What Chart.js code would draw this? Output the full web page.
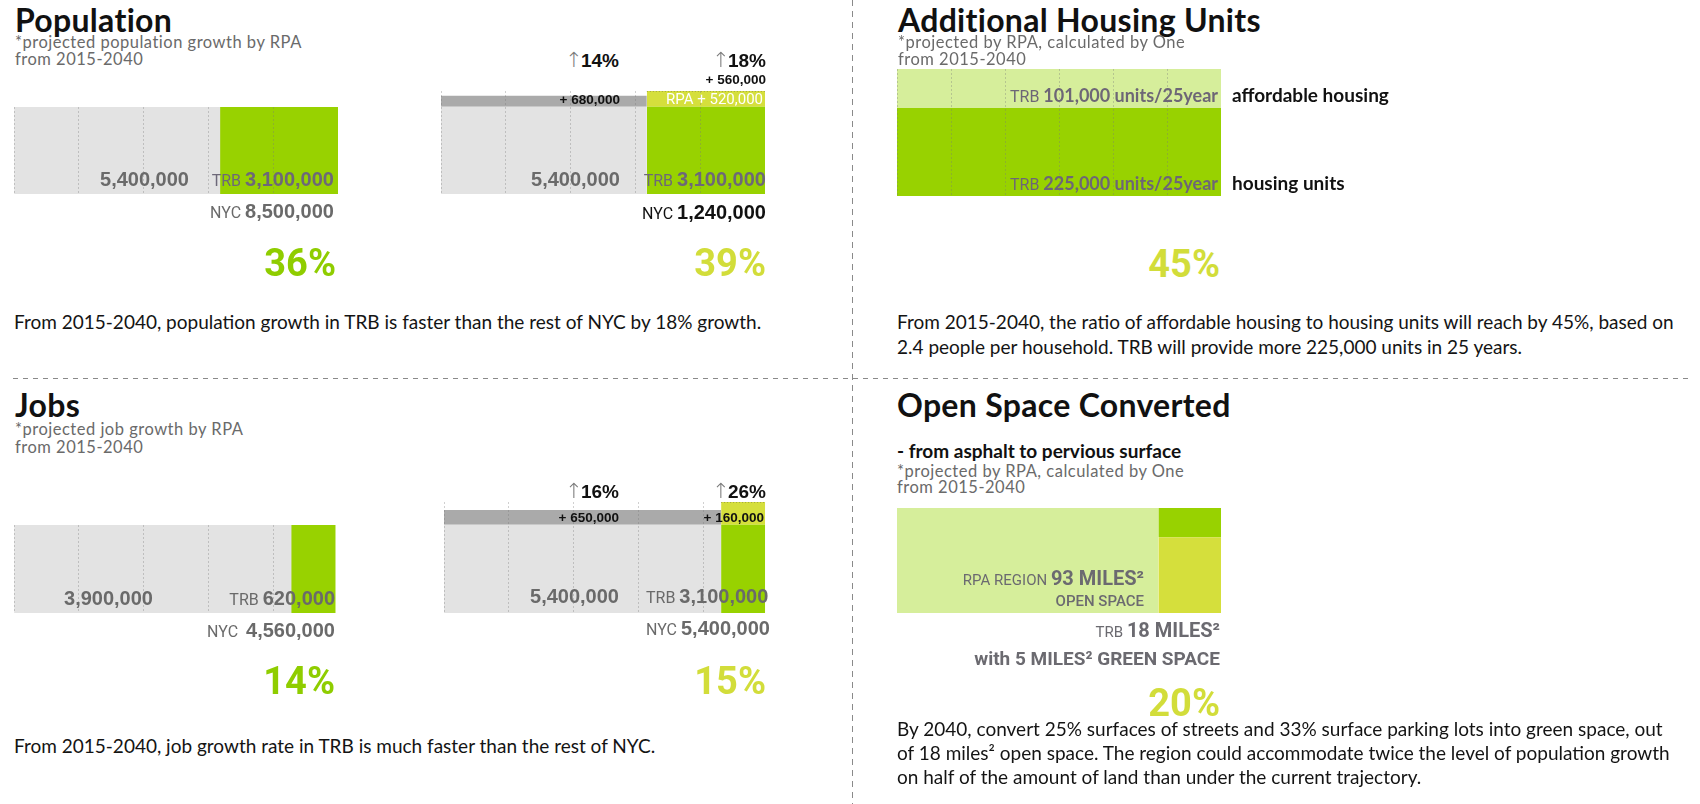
<!DOCTYPE html>
<html lang="en">
<head>
<meta charset="UTF-8">
<title>TRB growth 2015-2040</title>
<style>
  body { margin: 0; background: #fff; }
  #stage { position: relative; width: 1700px; height: 804px; overflow: hidden; }
  canvas { position: absolute; }
  .vdash { position: absolute; left: 852px; top: 0; width: 1px; height: 804px;
    background: repeating-linear-gradient(to bottom, #8a8a8a 0 6px, transparent 6px 11px); }
  .hdash { position: absolute; left: 13px; top: 378px; width: 1678px; height: 1px;
    background: repeating-linear-gradient(to right, #8a8a8a 0 5px, transparent 5px 10px); }
  .t { position: absolute; white-space: nowrap; line-height: 1; }
  .bl { display: inline-block; width: 0; height: 0; }
  .h1 { font: 700 32px Lato, sans-serif; color: #111; line-height: 0.8; letter-spacing: 0.3px; }
  .h3 { font: 700 19px Lato, sans-serif; color: #111; }
  .sub { font: 400 16.5px Lato, sans-serif; color: #6a6a6a; letter-spacing: 0.5px; line-height: 0.9; }
  .p { font: 400 19px Lato, sans-serif; color: #141414; }
  .num { font: 700 20px "Liberation Sans", Arial, sans-serif; color: #6a6a6a; }
  .num .sm { font: 400 16px Roboto, sans-serif; }
  .purp { color: #6d6878; }
  .dark { color: #111; }
  .pct { font: 700 38px Roboto, sans-serif; line-height: 0.8; }
  .green { color: #8fcd00; }
  .yellow { color: #d2dd3a; }
  .up { font: 700 19px "Liberation Sans", Arial, sans-serif; color: #111; }
  .up .arr { font: 200 21px "DejaVu Sans", sans-serif; color: #7a7a7a; margin-right: -2px; }
  .plus { font: 700 13.5px "Liberation Sans", Arial, sans-serif; color: #111; }
  .rpa { font: 400 15px Roboto, sans-serif; color: #fff; }
  .hnum { font: 700 18px Lato, sans-serif; color: #6d6676; }
  .hnum .sm { font: 400 16px Roboto, sans-serif; }
  .hlab { font: 700 19px Lato, sans-serif; color: #111; }
  .os { font: 700 20px Roboto, sans-serif; color: #6b6a70; }
  .os .sm { font: 400 15px Roboto, sans-serif; }
  .os.small { font-size: 15px; font-weight: 500; }
  .os.mid { font-size: 19px; }
</style>
</head>
<body>
<div id="stage">
  <div class="vdash"></div>
  <div class="hdash"></div>
  <canvas id="popNow" width="324" height="87" style="left:14px;top:107px"></canvas>
  <canvas id="popGrow" width="324" height="100" style="left:441px"></canvas>
  <canvas id="jobsNow" width="324" height="88" style="left:14px;top:525px"></canvas>
  <canvas id="jobsGrow" width="324" height="100" style="left:444px"></canvas>
  <canvas id="housing" width="324" height="127" style="left:897px;top:69px"></canvas>
  <canvas id="openSpace" width="324" height="105" style="left:897px;top:508px"></canvas>
</div>

<script src="https://cdn.jsdelivr.net/npm/chart.js"></script>
<script>
// data, 2015-2040 projections
const segments = ['rest of NYC', 'TRB'];
const popBase = [5400000, 3100000];
const popGrowth = [680000, 560000];
const popNYC = 8500000;
const jobsBase = [3900000, 620000];
const jobsGrowth = [650000, 160000];
const jobsNYC = 4560000;
const housingSeries = ['housing units', 'affordable housing'];
const housingUnits = [225000, 101000];
const rpaOpenSpace = 93;               // miles², RPA region
const trbSpace = ['open space', 'green space'];
const trbMiles = [13, 5];              // TRB 18 miles², 5 of them green

const GRAY = '#e3e3e3', BAND = '#aaaaaa', GREEN = '#98d200', YELLOW = '#d5df3c', PALE = '#d6ee9b';
const GRID = 'rgba(120,120,120,0.35)';
const noChrome = { legend: { display: false }, tooltip: { enabled: false } };

function gridAxis(max) {
    return {
        type: 'linear', min: 0, max: max,
        ticks: { display: false, stepSize: max / 5 },
        grid: { drawTicks: false, color: GRID, lineWidth: 1, z: 1 },
        border: { display: false, dash: [2, 2] }
    };
}

// one row, stacked horizontally
function stripChart(id, values, total) {
    return new Chart(document.getElementById(id), {
        type: 'bar',
        data: {
            labels: ['NYC'],
            datasets: values.map((v, i) => ({
                label: segments[i], data: [v], backgroundColor: [GRAY, GREEN][i],
                borderWidth: 0, categoryPercentage: 1, barPercentage: 1
            }))
        },
        options: {
            indexAxis: 'y', responsive: false, animation: false, events: [],
            layout: { padding: 0 }, plugins: noChrome,
            scales: { x: Object.assign(gridAxis(total), { stacked: true }), y: { stacked: true, display: false } }
        }
    });
}

// filled rectangle as a flat line filled down to y0
function rect(label, x0, x1, y0, y1, color, extra) {
    return Object.assign({
        label: label, type: 'line', data: [{ x: x0, y: y1 }, { x: x1, y: y1 }],
        fill: { value: y0 }, backgroundColor: color,
        borderColor: 'rgba(0,0,0,0)', borderWidth: 0, pointRadius: 0
    }, extra || {});
}

// base row plus growth bands, band height = growth / base
function growthChart(id, base, growth, total, bodyH, bodyBottom) {
    const ratio = growth.map((g, i) => g / base[i]);
    const yTop = 1 + Math.max(...ratio);
    const cv = document.getElementById(id);
    cv.height = Math.round(bodyH * yTop) + 1;
    cv.style.top = (bodyBottom - cv.height) + 'px';
    const ds = [];
    let x0 = 0;
    base.forEach((v, i) => {
        const x1 = x0 + v;
        ds.push(rect(segments[i], x0, x1, 0, 1, [GRAY, GREEN][i]));
        ds.push(rect(segments[i] + ' growth', x0, x1, 1, 1 + ratio[i], [BAND, YELLOW][i],
            i ? { borderColor: '#707040', borderWidth: 1, borderDash: [1, 2] } : null));
        x0 = x1;
    });
    return new Chart(cv, {
        type: 'line',
        data: { datasets: ds },
        options: {
            responsive: false, animation: false, events: [],
            layout: { padding: { top: 1 } }, plugins: noChrome,
            scales: { x: gridAxis(total), y: { type: 'linear', min: 0, max: yTop, display: false } }
        }
    });
}

stripChart('popNow', popBase, popNYC);
growthChart('popGrow', popBase, popGrowth, popNYC, 87, 194);
stripChart('jobsNow', jobsBase, jobsNYC);
growthChart('jobsGrow', jobsBase, jobsGrowth, jobsNYC, 88, 613);

new Chart(document.getElementById('housing'), {
    type: 'bar',
    data: {
        labels: ['TRB'],
        datasets: housingUnits.map((v, i) => ({
            label: housingSeries[i], data: [v], backgroundColor: [GREEN, PALE][i],
            borderWidth: 0, categoryPercentage: 1, barPercentage: 1
        }))
    },
    options: {
        responsive: false, animation: false, events: [],
        layout: { padding: 0 }, plugins: noChrome,
        scales: {
            x: { stacked: true, display: false },
            y: { stacked: true, display: false, min: 0, max: housingUnits.reduce((a, b) => a + b, 0) },
            g: Object.assign(gridAxis(5), { axis: 'x', position: 'bottom' })
        }
    }
});

const trbTotal = trbMiles.reduce((a, b) => a + b, 0);
const rpaRest = rpaOpenSpace - trbTotal;
new Chart(document.getElementById('openSpace'), {
    type: 'line',
    data: {
        datasets: [
            rect('RPA region open space', 0, rpaRest, 0, trbTotal, PALE),
            rect('TRB ' + trbSpace[0], rpaRest, rpaOpenSpace, 0, trbMiles[0], YELLOW),
            rect('TRB ' + trbSpace[1], rpaRest, rpaOpenSpace, trbMiles[0], trbTotal, GREEN),
            { label: 'divider', type: 'line', data: [{ x: rpaRest, y: 0 }, { x: rpaRest, y: trbTotal }],
              borderColor: '#fff', borderWidth: 2, pointRadius: 0, fill: false }
        ]
    },
    options: {
        responsive: false, animation: false, events: [],
        layout: { padding: 0 }, plugins: noChrome,
        scales: {
            x: { type: 'linear', min: 0, max: rpaOpenSpace, display: false },
            y: { type: 'linear', min: 0, max: trbTotal, display: false }
        }
    }
});

// text, placed by baseline
const stage = document.getElementById('stage');
function txt(x, base, align, html, cls) {
    const d = document.createElement('div');
    d.className = 't ' + cls;
    d.innerHTML = html + '<i class="bl"></i>';
    stage.appendChild(d);
    const b = d.querySelector('.bl').offsetTop;
    const w = d.getBoundingClientRect().width;
    d.style.top = (base - b) + 'px';
    d.style.left = (align === 'right' ? x - w : x) + 'px';
}
const up = '<span class="arr">↑</span>';
const sm = s => '<span class="sm">' + s + ' </span>';

// population
txt(15, 32, 'left', 'Population', 'h1');
txt(15, 48, 'left', '*projected population growth by RPA', 'sub');
txt(15, 65, 'left', 'from 2015-2040', 'sub');
txt(189, 186, 'right', '5,400,000', 'num');
txt(334, 186, 'right', sm('TRB') + '3,100,000', 'num purp');
txt(334, 218, 'right', sm('NYC') + '8,500,000', 'num');
txt(336, 276, 'right', '36%', 'pct green');
txt(619, 67, 'right', up + '14%', 'up');
txt(766, 67, 'right', up + '18%', 'up');
txt(766, 84, 'right', '+ 560,000', 'plus');
txt(620, 104, 'right', '+ 680,000', 'plus');
txt(763, 104, 'right', 'RPA + 520,000', 'rpa');
txt(620, 186, 'right', '5,400,000', 'num');
txt(766, 186, 'right', sm('TRB') + '3,100,000', 'num purp');
txt(766, 219, 'right', sm('NYC') + '1,240,000', 'num dark');
txt(766, 276, 'right', '39%', 'pct yellow');
txt(14, 329, 'left', 'From 2015-2040, population growth in TRB is faster than the rest of NYC by 18% growth.', 'p');

// housing
txt(898, 32, 'left', 'Additional Housing Units', 'h1');
txt(898, 48, 'left', '*projected by RPA, calculated by One', 'sub');
txt(898, 65, 'left', 'from 2015-2040', 'sub');
txt(1218, 102, 'right', sm('TRB') + '101,000 units/25year', 'hnum');
txt(1218, 190, 'right', sm('TRB') + '225,000 units/25year', 'hnum');
txt(1232, 102, 'left', 'affordable housing', 'hlab');
txt(1232, 190, 'left', 'housing units', 'hlab');
txt(1220, 277, 'right', '45%', 'pct yellow');
txt(897, 329, 'left', 'From 2015-2040, the ratio of affordable housing to housing units will reach by 45%, based on', 'p');
txt(897, 354, 'left', '2.4 people per household. TRB will provide more 225,000 units in 25 years.', 'p');

// jobs
txt(15, 417, 'left', 'Jobs', 'h1');
txt(15, 435, 'left', '*projected job growth by RPA', 'sub');
txt(15, 453, 'left', 'from 2015-2040', 'sub');
txt(153, 605, 'right', '3,900,000', 'num');
txt(335, 605, 'right', sm('TRB') + '620,000', 'num');
txt(335, 637, 'right', sm('NYC&nbsp;') + '4,560,000', 'num');
txt(335, 694, 'right', '14%', 'pct green');
txt(619, 498, 'right', up + '16%', 'up');
txt(766, 498, 'right', up + '26%', 'up');
txt(619, 522, 'right', '+ 650,000', 'plus');
txt(764, 522, 'right', '+ 160,000', 'plus');
txt(619, 603, 'right', '5,400,000', 'num');
txt(646, 603, 'left', sm('TRB') + '3,100,000', 'num');
txt(646, 635, 'left', sm('NYC') + '5,400,000', 'num');
txt(766, 694, 'right', '15%', 'pct yellow');
txt(14, 753, 'left', 'From 2015-2040, job growth rate in TRB is much faster than the rest of NYC.', 'p');

// open space
txt(897, 417, 'left', 'Open Space Converted', 'h1');
txt(897, 458, 'left', '- from asphalt to pervious surface', 'h3');
txt(897, 477, 'left', '*projected by RPA, calculated by One', 'sub');
txt(897, 493, 'left', 'from 2015-2040', 'sub');
txt(1144, 585, 'right', sm('RPA REGION') + '93 MILES²', 'os');
txt(1144, 606, 'right', 'OPEN SPACE', 'os small');
txt(1220, 637, 'right', sm('TRB') + '18 MILES²', 'os');
txt(1220, 665, 'right', 'with 5 MILES² GREEN SPACE', 'os mid');
txt(1220, 716, 'right', '20%', 'pct yellow');
txt(897, 736, 'left', 'By 2040, convert 25% surfaces of streets and 33% surface parking lots into green space, out', 'p');
txt(897, 760, 'left', 'of 18 miles² open space. The region could accommodate twice the level of population growth', 'p');
txt(897, 784, 'left', 'on half of the amount of land than under the current trajectory.', 'p');
</script>
</body>
</html>
